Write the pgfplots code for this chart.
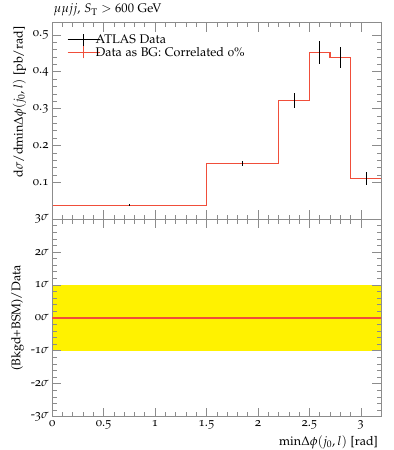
\documentclass[border=0pt]{standalone}
\usepackage[T1]{fontenc}
\usepackage[osf]{mathpazo}
\usepackage{pgfplots}
\pgfplotsset{compat=1.18}
\usetikzlibrary{calc}
\definecolor{hred}{RGB}{240,78,58}
\definecolor{frame}{RGB}{140,140,140}
\newcommand\fs{\fontsize{12.5}{15}\selectfont}
\pgfplotsset{
  common/.style={
    scale only axis, width=328pt,
    xmin=0, xmax=3.2,
    xtick={0,0.5,1,1.5,2,2.5,3}, minor x tick num=4, minor y tick num=4,
    tick align=inside, major tick length=9pt, minor tick length=4.5pt,
    axis line style={frame, line width=0.6pt}, every tick/.style={frame, line width=0.6pt},
    set layers, axis on top,
    /pgf/number format/assume math mode=true,
    tick label style={font=\fs},
    label style={font=\fs},
    xtick pos=both, ytick pos=both,
  }
}
\begin{document}
\begin{tikzpicture}
\begin{axis}[common, name=top, at={(0,0)}, anchor=south west, height=195.6pt,
  ymin=0, ymax=0.533, ytick={0.1,0.2,0.3,0.4,0.5}, xticklabels={},
  yticklabel style={/pgf/number format/fixed, /pgf/number format/precision=1},
  ylabel={d$\sigma$/dmin$\Delta\phi(j_0,l)$ [pb/rad]},
  ylabel style={at={(ticklabel cs:1)}, anchor=south east},
  title={$\mu\mu jj$, $S_\mathrm{T} > 600$ GeV},
  title style={at={(0,1)}, anchor=south west, font=\fs, yshift=-3pt, xshift=-2pt},
  legend style={at={(0.035,0.962)}, anchor=north west, draw=none, fill=none, font=\fs, row sep=-1.5pt,
    nodes={inner xsep=1pt}},
  legend cell align=left,
]
\addlegendimage{legend image code/.code={\draw[black, line width=0.8pt] (0pt,0pt) -- (26pt,0pt); \draw[black, line width=0.8pt, overlay] (26pt,0pt) -- (32pt,0pt); \draw[black, line width=0.8pt] (16pt,-6pt) -- (16pt,6pt);}}
\addlegendentry{ATLAS Data}
\addlegendimage{legend image code/.code={\draw[draw=hred, line width=1.5pt] (0pt,0pt) -- (26pt,0pt); \draw[draw=hred, line width=1.5pt, overlay] (26pt,0pt) -- (32pt,0pt); \draw[draw=hred, line width=1.2pt] (16pt,-6pt) -- (16pt,6pt);}}
\addlegendentry{Data as BG: Correlated 0\%}
\addplot[draw=hred, line width=1.1pt, const plot, forget plot] coordinates {
 (0,0.038) (1.5,0.150) (2.2,0.322) (2.5,0.453) (2.7,0.439) (2.9,0.110) (3.2,0.110)};
\addplot[black, only marks, mark=*, mark size=0pt, forget plot,
  error bars/.cd, y dir=both, y explicit, error mark=none,
  error bar style={black, line width=0.8pt}] coordinates {
 (0.75,0.038) +- (0,0.002)
 (1.85,0.150) +- (0,0.007)
 (2.35,0.322) +- (0,0.020)
 (2.6,0.453) +- (0,0.031)
 (2.8,0.439) +- (0,0.028)
 (3.05,0.110) +- (0,0.018)};
\end{axis}
\begin{axis}[common, name=bot, at={(top.south west)}, anchor=north west, height=196.7pt,
  ymin=-3, ymax=3, ytick={-3,-2,-1,0,1,2,3},
  yticklabels={-3$\sigma$,-2$\sigma$,-1$\sigma$,0$\sigma$,1$\sigma$,2$\sigma$,3$\sigma$},
  ylabel={(Bkgd+BSM)/Data},
  xlabel={min$\Delta\phi(j_0,l)$ [rad]},
  xlabel style={at={(ticklabel cs:1)}, anchor=north east, yshift=0pt},
]
\addplot[fill=yellow, draw=none] coordinates {(0,-1) (3.2,-1) (3.2,1) (0,1)} -- cycle;
\addplot[draw=hred, line width=1.4pt, const plot, on layer=axis foreground] coordinates {
 (0,0.001) (1.5,0.001) (2.2,0.001) (2.5,0.001) (2.7,0.001) (2.9,0.001) (3.2,0.001)};
\end{axis}
\pgfresetboundingbox
\path ($(top.north west)+(-52pt,22.7pt)$) rectangle ($(bot.south east)+(12pt,-33.3pt)$);
\end{tikzpicture}
\end{document}
